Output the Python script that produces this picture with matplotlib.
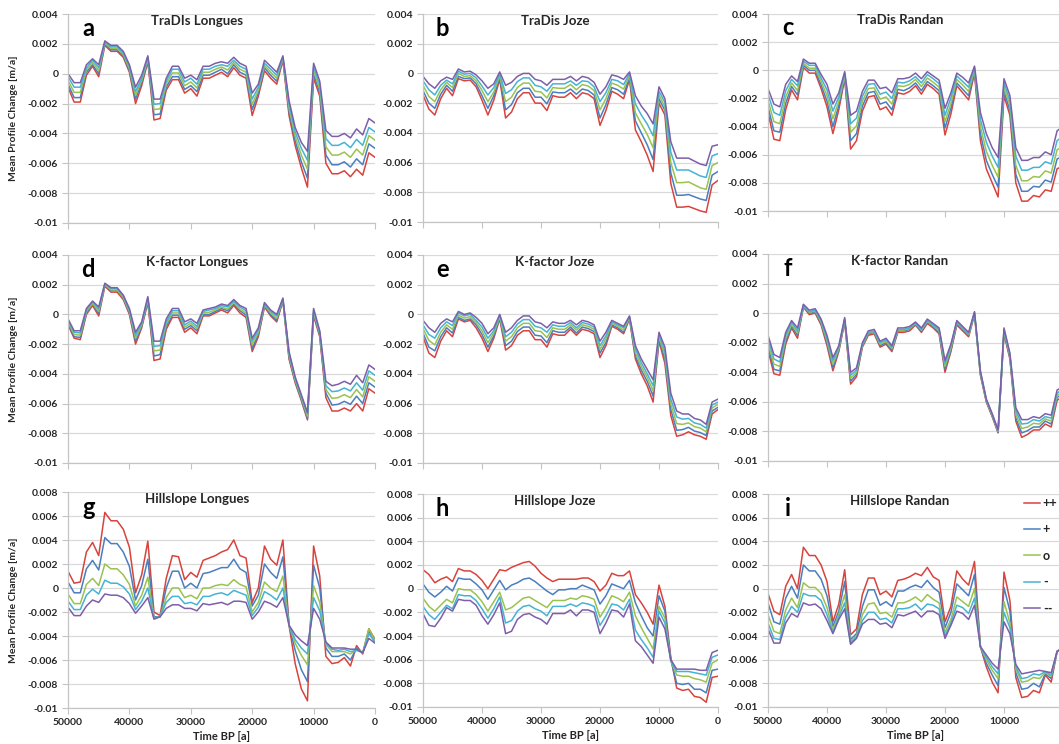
import numpy as np
import matplotlib
matplotlib.use("Agg")
import matplotlib.pyplot as plt
from matplotlib.ticker import FuncFormatter, MultipleLocator

plt.rcParams['font.family'] = ['Lato', 'DejaVu Sans']

# time axis (years before present), one value per 1000 years
time_bp = list(range(50000, -1, -1000))
scenarios = ["++", "+", "o", "-", "--"]
colors = ["#d8433d", "#4a7ebf", "#9bc24f", "#45b3d3", "#7d5ea8"]

# all values in mm/a, converted to m/a when plotted

# a: TraDIs Longues
a_pp = [-0.9, -1.9, -1.9, -0.1, 0.5, -0.2, 1.9, 1.5, 1.5, 1.1,
        0.1, -2.0, -0.8, 0.8, -3.1, -3.0, -1.1, -0.4, -0.4, -1.3,
        -1.0, -1.5, -0.3, -0.3, -0.1, 0.1, -0.2, 0.4, -0.1, -0.3,
        -2.8, -1.5, 0.2, -0.3, -0.7, 0.9, -2.8, -4.8, -6.3, -7.6,
        -0.3, -1.5, -6.0, -6.7, -6.7, -6.5, -6.9, -6.4, -6.8, -5.3, -5.6]
a_p = [-0.7, -1.6, -1.6, 0.1, 0.6, 0.0, 2.0, 1.6, 1.6, 1.2,
       0.2, -1.7, -0.6, 0.9, -2.75, -2.7, -0.9, -0.2, -0.2, -1.05,
       -0.8, -1.2, -0.1, -0.1, 0.1, 0.3, 0.0, 0.6, 0.1, -0.1,
       -2.4, -1.3, 0.4, -0.1, -0.5, 1.0, -2.55, -4.5, -5.9, -7.0,
       -0.05, -1.25, -5.45, -6.1, -6.1, -5.9, -6.25, -5.7, -6.1, -4.7, -5.0]
a_o = [-0.45, -1.25, -1.25, 0.25, 0.75, 0.2, 2.05, 1.7, 1.7, 1.3,
       0.35, -1.45, -0.45, 1.0, -2.4, -2.35, -0.7, 0.05, 0.05, -0.8,
       -0.55, -0.95, 0.1, 0.1, 0.3, 0.45, 0.25, 0.75, 0.3, 0.1,
       -2.05, -1.1, 0.55, 0.1, -0.3, 1.05, -2.3, -4.2, -5.45, -6.4,
       0.2, -1.0, -4.9, -5.45, -5.45, -5.25, -5.6, -5.05, -5.45, -4.15, -4.45]
a_m = [-0.2, -0.9, -0.9, 0.4, 0.9, 0.4, 2.1, 1.8, 1.8, 1.4,
       0.5, -1.2, -0.3, 1.1, -2.05, -2.0, -0.5, 0.3, 0.3, -0.55,
       -0.3, -0.7, 0.3, 0.3, 0.5, 0.6, 0.5, 0.9, 0.5, 0.3,
       -1.7, -0.9, 0.7, 0.3, -0.1, 1.1, -2.05, -3.9, -5.0, -5.8,
       0.45, -0.75, -4.35, -4.8, -4.8, -4.6, -4.95, -4.4, -4.8, -3.6, -3.9]
a_mm = [0.0, -0.6, -0.6, 0.6, 1.0, 0.6, 2.2, 1.9, 1.9, 1.5,
        0.6, -0.9, -0.1, 1.2, -1.7, -1.7, -0.3, 0.5, 0.5, -0.3,
        -0.1, -0.4, 0.5, 0.5, 0.7, 0.8, 0.7, 1.1, 0.7, 0.5,
        -1.3, -0.7, 0.9, 0.5, 0.1, 1.2, -1.8, -3.6, -4.6, -5.2,
        0.7, -0.5, -3.8, -4.2, -4.2, -4.0, -4.3, -3.7, -4.1, -3.0, -3.3]

# b: TraDis Joze
b_pp = [-1.45, -2.4, -2.8, -1.7, -1.0, -1.5, -0.35, -0.5, -0.45, -0.9,
        -1.8, -2.8, -1.8, -0.4, -3.0, -2.6, -1.7, -1.3, -1.3, -2.0,
        -2.0, -2.5, -1.5, -1.6, -1.6, -1.3, -1.7, -1.3, -1.4, -1.7,
        -3.5, -2.5, -1.2, -1.4, -1.7, -0.4, -3.8, -4.6, -5.5, -6.6,
        -2.0, -2.8, -7.4, -9.0, -9.0, -8.95, -9.1, -9.25, -9.35, -7.5, -7.2]
b_p = [-1.15, -2.0, -2.35, -1.4, -0.8, -1.2, -0.2, -0.35, -0.3, -0.7,
       -1.5, -2.35, -1.5, -0.3, -2.45, -2.1, -1.3, -1.0, -1.0, -1.6,
       -1.6, -2.05, -1.25, -1.3, -1.3, -1.05, -1.4, -1.05, -1.15, -1.45,
       -3.0, -2.1, -0.95, -1.1, -1.4, -0.3, -3.2, -4.0, -4.8, -5.8,
       -1.7, -2.5, -6.7, -8.2, -8.2, -8.15, -8.3, -8.45, -8.55, -6.85, -6.6]
b_o = [-0.8, -1.55, -1.9, -1.1, -0.6, -0.95, 0.0, -0.2, -0.15, -0.5,
       -1.15, -1.9, -1.25, -0.15, -1.9, -1.6, -0.95, -0.65, -0.65, -1.2,
       -1.25, -1.65, -0.95, -1.0, -1.0, -0.75, -1.1, -0.75, -0.85, -1.15,
       -2.45, -1.7, -0.65, -0.8, -1.05, -0.15, -2.65, -3.4, -4.1, -5.0,
       -1.45, -2.25, -6.0, -7.35, -7.35, -7.3, -7.5, -7.7, -7.8, -6.2, -6.0]
b_m = [-0.5, -1.1, -1.45, -0.8, -0.45, -0.7, 0.15, -0.05, 0.0, -0.3,
       -0.85, -1.45, -0.95, -0.05, -1.35, -1.1, -0.55, -0.3, -0.3, -0.8,
       -0.9, -1.2, -0.7, -0.7, -0.7, -0.5, -0.8, -0.5, -0.55, -0.9,
       -1.9, -1.3, -0.4, -0.5, -0.75, 0.0, -2.05, -2.8, -3.4, -4.2,
       -1.2, -1.95, -5.3, -6.5, -6.5, -6.5, -6.7, -6.9, -7.0, -5.55, -5.4]
b_mm = [-0.2, -0.7, -1.0, -0.5, -0.25, -0.4, 0.3, 0.1, 0.15, -0.1,
        -0.5, -1.0, -0.7, 0.1, -0.8, -0.6, -0.2, 0.0, 0.0, -0.4,
        -0.5, -0.8, -0.4, -0.4, -0.4, -0.2, -0.5, -0.2, -0.3, -0.6,
        -1.4, -0.9, -0.1, -0.2, -0.4, 0.1, -1.5, -2.2, -2.7, -3.4,
        -0.9, -1.7, -4.6, -5.7, -5.7, -5.7, -5.9, -6.1, -6.2, -4.9, -4.8]

# c: TraDis Randan
c_pp = [-3.0, -4.9, -5.0, -2.8, -1.4, -2.1, 0.2, -0.2, -0.2, -1.3,
        -2.6, -4.5, -2.8, -0.6, -5.6, -5.0, -2.9, -1.9, -1.8, -2.8,
        -2.6, -3.2, -1.6, -1.7, -1.5, -1.1, -1.7, -1.0, -1.3, -1.7,
        -4.6, -3.1, -1.1, -1.6, -2.1, -0.2, -5.0, -7.0, -8.0, -9.0,
        -1.8, -3.2, -8.0, -9.3, -9.3, -8.9, -9.0, -8.5, -8.6, -7.0, -6.8]
c_p = [-2.6, -4.3, -4.4, -2.35, -1.15, -1.75, 0.35, 0.0, 0.0, -1.05,
       -2.2, -4.0, -2.5, -0.5, -5.0, -4.5, -2.55, -1.6, -1.5, -2.4,
       -2.25, -2.8, -1.35, -1.45, -1.25, -0.9, -1.45, -0.8, -1.1, -1.45,
       -4.1, -2.7, -0.9, -1.35, -1.8, -0.1, -4.5, -6.4, -7.4, -8.3,
       -1.5, -2.85, -7.4, -8.6, -8.6, -8.25, -8.3, -7.8, -7.95, -6.3, -6.1]
c_o = [-2.15, -3.65, -3.8, -1.9, -0.9, -1.45, 0.5, 0.15, 0.15, -0.8,
       -1.8, -3.45, -2.2, -0.35, -4.4, -3.95, -2.2, -1.3, -1.25, -2.05,
       -1.9, -2.4, -1.1, -1.15, -1.0, -0.65, -1.15, -0.55, -0.85, -1.2,
       -3.65, -2.35, -0.65, -1.05, -1.5, 0.05, -4.0, -5.75, -6.75, -7.6,
       -1.2, -2.5, -6.75, -7.85, -7.85, -7.55, -7.6, -7.15, -7.3, -5.65, -5.4]
c_m = [-1.7, -3.0, -3.2, -1.45, -0.65, -1.1, 0.65, 0.35, 0.35, -0.55,
       -1.4, -2.9, -1.9, -0.2, -3.8, -3.4, -1.85, -1.0, -0.95, -1.7,
       -1.55, -2.0, -0.85, -0.9, -0.75, -0.45, -0.9, -0.3, -0.6, -0.95,
       -3.2, -1.95, -0.4, -0.8, -1.2, 0.2, -3.5, -5.1, -6.1, -6.9,
       -0.9, -2.15, -6.1, -7.1, -7.1, -6.9, -6.9, -6.5, -6.65, -5.0, -4.7]
c_mm = [-1.3, -2.4, -2.6, -1.0, -0.4, -0.8, 0.8, 0.5, 0.5, -0.3,
        -1.0, -2.4, -1.6, -0.1, -3.2, -2.9, -1.5, -0.7, -0.7, -1.3,
        -1.2, -1.6, -0.6, -0.6, -0.5, -0.2, -0.6, -0.1, -0.4, -0.7,
        -2.7, -1.6, -0.2, -0.5, -0.9, 0.3, -3.0, -4.5, -5.5, -6.2,
        -0.6, -1.8, -5.5, -6.4, -6.4, -6.2, -6.2, -5.8, -6.0, -4.3, -4.0]

# d: K-factor Longues
d_pp = [-0.7, -1.6, -1.7, 0.0, 0.6, -0.1, 1.9, 1.5, 1.5, 1.0,
        0.0, -2.0, -0.9, 0.8, -3.1, -3.0, -1.0, -0.2, -0.2, -1.2,
        -0.9, -1.3, -0.1, -0.1, 0.1, 0.3, 0.1, 0.6, 0.1, -0.2,
        -2.5, -1.5, 0.5, -0.1, -0.5, 0.9, -3.0, -4.6, -5.8, -7.1,
        -0.1, -1.5, -5.6, -6.5, -6.5, -6.3, -6.5, -6.0, -6.5, -5.0, -5.3]
d_p = [-0.6, -1.5, -1.55, 0.1, 0.7, 0.05, 1.95, 1.6, 1.6, 1.1,
       0.1, -1.8, -0.8, 0.9, -2.8, -2.7, -0.8, -0.05, -0.05, -1.0,
       -0.75, -1.1, 0.0, 0.0, 0.2, 0.4, 0.25, 0.7, 0.25, -0.05,
       -2.3, -1.35, 0.6, 0.0, -0.4, 0.95, -2.9, -4.5, -5.7, -7.0,
       0.0, -1.4, -5.3, -6.1, -6.05, -5.85, -6.05, -5.5, -6.0, -4.6, -4.9]
d_o = [-0.5, -1.35, -1.4, 0.2, 0.75, 0.2, 2.0, 1.65, 1.65, 1.15,
       0.2, -1.6, -0.7, 1.0, -2.45, -2.4, -0.65, 0.1, 0.1, -0.85,
       -0.6, -0.95, 0.1, 0.15, 0.3, 0.5, 0.35, 0.8, 0.35, 0.1,
       -2.05, -1.2, 0.65, 0.1, -0.25, 1.0, -2.75, -4.4, -5.6, -6.85,
       0.15, -1.3, -5.05, -5.65, -5.6, -5.4, -5.6, -5.05, -5.55, -4.2, -4.5]
d_m = [-0.4, -1.2, -1.25, 0.3, 0.85, 0.35, 2.05, 1.75, 1.75, 1.25,
       0.3, -1.4, -0.6, 1.1, -2.15, -2.1, -0.5, 0.25, 0.25, -0.7,
       -0.45, -0.8, 0.2, 0.3, 0.4, 0.6, 0.5, 0.9, 0.5, 0.25,
       -1.8, -1.05, 0.7, 0.2, -0.1, 1.05, -2.6, -4.3, -5.5, -6.7,
       0.3, -1.2, -4.8, -5.2, -5.15, -4.95, -5.15, -4.6, -5.1, -3.8, -4.1]
d_mm = [-0.3, -1.1, -1.1, 0.4, 0.9, 0.5, 2.1, 1.8, 1.8, 1.3,
        0.4, -1.2, -0.5, 1.2, -1.8, -1.8, -0.3, 0.4, 0.4, -0.5,
        -0.3, -0.6, 0.3, 0.4, 0.5, 0.7, 0.6, 1.0, 0.6, 0.4,
        -1.6, -0.9, 0.8, 0.3, 0.0, 1.1, -2.5, -4.2, -5.4, -6.6,
        0.4, -1.1, -4.5, -4.8, -4.7, -4.5, -4.7, -4.1, -4.6, -3.4, -3.7]

# e: K-factor Joze
e_pp = [-1.5, -2.6, -2.9, -1.8, -1.1, -1.5, -0.3, -0.5, -0.4, -0.9,
        -1.6, -2.5, -1.6, -0.3, -2.4, -2.1, -1.4, -1.1, -1.1, -1.7,
        -1.7, -2.2, -1.3, -1.4, -1.4, -1.0, -1.4, -1.0, -1.1, -1.3,
        -2.9, -2.1, -0.8, -1.0, -1.3, -0.3, -3.0, -4.0, -4.8, -5.9,
        -1.8, -3.3, -6.8, -8.2, -8.1, -7.9, -8.1, -8.2, -8.4, -6.7, -6.4]
e_p = [-1.25, -2.2, -2.45, -1.5, -0.9, -1.25, -0.2, -0.4, -0.3, -0.7,
       -1.35, -2.2, -1.45, -0.2, -2.1, -1.8, -1.15, -0.85, -0.85, -1.4,
       -1.45, -1.9, -1.1, -1.2, -1.2, -0.85, -1.25, -0.85, -0.95, -1.15,
       -2.6, -1.9, -0.7, -0.9, -1.2, -0.25, -2.8, -3.75, -4.5, -5.5,
       -1.65, -3.0, -6.4, -7.8, -7.75, -7.6, -7.85, -7.95, -8.15, -6.5, -6.25]
e_o = [-0.95, -1.75, -2.05, -1.2, -0.7, -1.0, -0.05, -0.25, -0.15, -0.55,
       -1.1, -1.9, -1.25, -0.15, -1.8, -1.5, -0.9, -0.6, -0.6, -1.1,
       -1.15, -1.55, -0.9, -1.0, -1.0, -0.7, -1.05, -0.7, -0.8, -1.0,
       -2.35, -1.65, -0.6, -0.8, -1.05, -0.2, -2.55, -3.5, -4.25, -5.15,
       -1.5, -2.75, -6.05, -7.35, -7.4, -7.3, -7.55, -7.65, -7.9, -6.3, -6.05]
e_m = [-0.7, -1.35, -1.6, -0.9, -0.5, -0.75, 0.1, -0.1, 0.0, -0.4,
       -0.85, -1.6, -1.1, -0.05, -1.5, -1.2, -0.65, -0.35, -0.35, -0.8,
       -0.9, -1.2, -0.7, -0.8, -0.8, -0.55, -0.9, -0.55, -0.65, -0.85,
       -2.1, -1.45, -0.5, -0.7, -0.9, -0.15, -2.3, -3.25, -4.0, -4.8,
       -1.35, -2.5, -5.7, -6.9, -7.05, -7.0, -7.3, -7.4, -7.65, -6.1, -5.9]
e_mm = [-0.4, -0.9, -1.2, -0.6, -0.3, -0.5, 0.2, 0.0, 0.1, -0.2,
        -0.6, -1.3, -0.9, 0.0, -1.2, -0.9, -0.4, -0.1, -0.1, -0.5,
        -0.6, -0.9, -0.5, -0.6, -0.6, -0.4, -0.7, -0.4, -0.5, -0.7,
        -1.8, -1.2, -0.4, -0.6, -0.8, -0.1, -2.1, -3.0, -3.7, -4.4,
        -1.2, -2.2, -5.3, -6.5, -6.7, -6.7, -7.0, -7.1, -7.4, -5.9, -5.7]

# f: K-factor Randan
f_pp = [-2.5, -4.1, -4.2, -2.1, -1.0, -1.7, 0.4, -0.1, 0.0, -0.8,
        -2.2, -3.9, -2.6, -0.6, -4.8, -4.3, -2.3, -1.5, -1.4, -2.3,
        -2.1, -2.6, -1.3, -1.3, -1.2, -0.8, -1.3, -0.7, -1.0, -1.4,
        -4.0, -2.6, -0.8, -1.2, -1.6, -0.1, -4.2, -6.0, -7.0, -8.1,
        -1.4, -3.1, -7.3, -8.4, -8.2, -7.9, -7.9, -7.5, -7.7, -5.9, -5.6]
f_p = [-2.25, -3.8, -3.9, -1.9, -0.9, -1.5, 0.45, 0.0, 0.1, -0.7,
       -2.0, -3.7, -2.5, -0.5, -4.6, -4.15, -2.2, -1.4, -1.3, -2.2,
       -2.0, -2.5, -1.2, -1.2, -1.1, -0.75, -1.2, -0.6, -0.9, -1.3,
       -3.8, -2.5, -0.7, -1.1, -1.5, -0.05, -4.1, -5.95, -6.95, -8.05,
       -1.3, -3.0, -7.1, -8.1, -7.95, -7.7, -7.7, -7.3, -7.5, -5.7, -5.45]
f_o = [-2.0, -3.45, -3.6, -1.7, -0.75, -1.35, 0.5, 0.05, 0.15, -0.6,
       -1.85, -3.45, -2.4, -0.45, -4.4, -4.0, -2.15, -1.35, -1.25, -2.1,
       -1.9, -2.4, -1.15, -1.15, -1.05, -0.7, -1.15, -0.55, -0.85, -1.2,
       -3.6, -2.35, -0.65, -1.05, -1.45, 0.0, -4.05, -5.9, -6.9, -8.0,
       -1.2, -2.9, -6.85, -7.8, -7.7, -7.45, -7.5, -7.15, -7.3, -5.55, -5.3]
f_m = [-1.75, -3.1, -3.3, -1.5, -0.6, -1.2, 0.55, 0.1, 0.2, -0.5,
       -1.7, -3.2, -2.3, -0.4, -4.2, -3.85, -2.1, -1.3, -1.2, -2.0,
       -1.8, -2.3, -1.1, -1.1, -1.0, -0.65, -1.1, -0.5, -0.8, -1.1,
       -3.4, -2.2, -0.6, -1.0, -1.4, 0.05, -4.0, -5.85, -6.85, -7.95,
       -1.1, -2.8, -6.6, -7.5, -7.45, -7.2, -7.3, -7.0, -7.1, -5.4, -5.15]
f_mm = [-1.5, -2.8, -3.0, -1.3, -0.5, -1.0, 0.6, 0.2, 0.3, -0.4,
        -1.5, -3.0, -2.2, -0.3, -4.0, -3.7, -2.0, -1.2, -1.1, -1.9,
        -1.7, -2.2, -1.0, -1.0, -0.9, -0.6, -1.0, -0.4, -0.7, -1.0,
        -3.2, -2.1, -0.5, -0.9, -1.3, 0.1, -3.9, -5.8, -6.8, -7.9,
        -1.0, -2.7, -6.4, -7.2, -7.2, -7.0, -7.1, -6.8, -6.9, -5.2, -5.0]

# g: Hillslope Longues
g_pp = [1.4, 0.4, 0.5, 3.0, 3.8, 2.7, 6.3, 5.6, 5.6, 4.9,
        3.4, -0.4, 1.1, 3.9, -2.0, -2.3, 0.8, 2.7, 2.6, 0.7,
        1.3, 0.9, 2.3, 2.5, 2.7, 3.0, 3.2, 4.0, 2.7, 2.5,
        -1.2, 0.0, 3.5, 2.4, 1.9, 4.0, -3.1, -6.3, -8.4, -9.4,
        3.5, 1.0, -5.7, -6.3, -6.2, -5.8, -6.5, -4.8, -5.5, -3.4, -4.3]
g_p = [0.5, -0.4, -0.4, 1.6, 2.3, 1.5, 4.2, 3.7, 3.7, 3.0,
       1.8, -1.0, 0.2, 2.4, -2.4, -2.4, 0.0, 1.4, 1.4, 0.0,
       0.4, 0.0, 1.2, 1.3, 1.5, 1.7, 1.7, 2.4, 1.6, 1.3,
       -1.5, -0.6, 2.0, 1.3, 0.8, 2.6, -3.1, -5.2, -6.8, -7.8,
       1.9, 0.0, -5.0, -5.7, -5.7, -5.5, -6.0, -5.0, -5.4, -3.6, -4.4]
g_o = [-0.5, -1.3, -1.3, 0.3, 0.8, 0.2, 2.0, 1.6, 1.6, 1.1,
       0.3, -1.5, -0.6, 0.9, -2.5, -2.4, -0.8, 0.0, 0.0, -0.8,
       -0.6, -0.9, 0.0, 0.0, 0.2, 0.3, 0.2, 0.7, 0.3, 0.1,
       -2.0, -1.2, 0.5, 0.0, -0.3, 1.0, -3.1, -4.6, -5.6, -6.4,
       0.2, -1.2, -4.7, -5.3, -5.3, -5.3, -5.5, -5.1, -5.4, -3.4, -4.4]
g_m = [-1.1, -1.8, -1.8, -0.6, -0.1, -0.5, 0.65, 0.4, 0.4, 0.1,
       -0.5, -1.8, -1.1, 0.0, -2.5, -2.4, -1.2, -0.7, -0.7, -1.3,
       -1.2, -1.4, -0.7, -0.7, -0.5, -0.4, -0.6, -0.2, -0.4, -0.6,
       -2.3, -1.6, -0.3, -0.6, -1.0, 0.0, -3.1, -4.3, -5.0, -5.5,
       -0.8, -1.9, -4.6, -5.1, -5.2, -5.1, -5.3, -5.2, -5.4, -3.8, -4.5]
g_mm = [-1.6, -2.3, -2.3, -1.5, -1.0, -1.2, -0.5, -0.6, -0.6, -0.8,
        -1.3, -2.1, -1.5, -0.8, -2.6, -2.4, -1.7, -1.4, -1.4, -1.7,
        -1.7, -1.9, -1.3, -1.4, -1.3, -1.2, -1.4, -1.1, -1.1, -1.2,
        -2.6, -2.0, -1.1, -1.3, -1.6, -0.8, -3.1, -3.9, -4.4, -4.8,
        -1.7, -2.6, -4.5, -5.0, -5.0, -5.0, -5.1, -5.1, -5.4, -4.2, -4.6]

# h: Hillslope Joze
h_pp = [1.6, 1.2, 0.5, 0.8, 1.0, 0.6, 1.7, 1.5, 1.5, 1.2,
        0.7, 0.0, 0.8, 1.6, 1.5, 1.8, 2.0, 2.2, 2.3, 1.9,
        1.3, 0.9, 0.6, 0.8, 0.8, 0.8, 0.8, 0.9, 0.9, 0.6,
        -0.2, 0.3, 1.3, 1.1, 1.1, 1.5, -0.5, -1.2, -2.0, -3.0,
        0.3, -1.5, -5.8, -8.4, -8.6, -8.5, -9.1, -9.2, -9.6, -7.5, -7.4]
h_p = [0.4, -0.3, -0.7, -0.3, 0.2, -0.2, 0.9, 0.8, 0.8, 0.4,
       -0.1, -0.9, -0.1, 0.7, -0.1, 0.3, 0.5, 0.8, 0.9, 0.6,
       0.2, -0.2, -0.5, -0.1, -0.1, 0.0, 0.0, 0.3, 0.1, -0.1,
       -1.3, -0.6, 0.4, 0.2, 0.0, 0.7, -1.2, -2.3, -3.3, -4.0,
       -0.6, -1.9, -6.0, -8.0, -8.1, -8.0, -8.5, -8.5, -8.8, -6.9, -6.8]
h_o = [-0.8, -1.5, -1.9, -1.4, -0.9, -1.2, 0.0, -0.1, -0.1, -0.5,
       -1.1, -1.9, -1.1, -0.3, -1.8, -1.6, -1.2, -0.8, -0.7, -1.0,
       -1.3, -1.6, -1.0, -1.0, -1.0, -0.8, -0.9, -0.6, -0.7, -0.9,
       -2.4, -1.6, -0.6, -0.8, -1.1, -0.3, -2.3, -3.3, -4.2, -5.1,
       -1.5, -2.5, -6.1, -7.3, -7.4, -7.4, -7.6, -7.7, -7.9, -6.3, -6.0]
h_m = [-1.5, -2.2, -2.6, -2.0, -1.4, -1.7, -0.5, -0.6, -0.6, -1.0,
       -1.7, -2.5, -1.7, -0.7, -2.9, -2.7, -1.9, -1.5, -1.4, -1.7,
       -1.9, -2.3, -1.5, -1.5, -1.5, -1.3, -1.5, -1.2, -1.3, -1.5,
       -3.1, -2.3, -1.3, -1.4, -1.8, -0.9, -3.5, -4.3, -5.0, -5.8,
       -1.9, -2.9, -6.1, -7.0, -7.0, -7.0, -7.1, -7.2, -7.3, -5.8, -5.6]
h_mm = [-2.1, -3.1, -3.2, -2.5, -1.6, -1.9, -0.9, -1.0, -1.0, -1.4,
        -2.3, -3.0, -2.2, -1.2, -3.8, -3.6, -2.6, -2.2, -2.1, -2.4,
        -2.6, -3.0, -2.1, -2.1, -2.1, -1.8, -2.3, -1.8, -1.8, -2.0,
        -3.8, -2.9, -1.8, -1.9, -2.4, -1.3, -4.4, -4.9, -5.6, -6.3,
        -2.4, -3.4, -6.0, -6.8, -6.8, -6.8, -6.8, -6.9, -6.9, -5.4, -5.2]

# i: Hillslope Randan
i_pp = [-0.4, -1.9, -2.2, 0.2, 1.2, 0.0, 3.5, 2.8, 2.8, 2.0,
        0.6, -2.8, -1.3, 1.6, -3.9, -3.4, -0.5, 0.9, 0.9, -0.5,
        -0.2, -0.7, 0.7, 0.8, 1.0, 1.3, 1.1, 1.8, 1.0, 0.7,
        -2.8, -1.5, 1.5, 0.8, 0.3, 2.3, -4.9, -6.6, -7.9, -8.8,
        1.4, -1.0, -7.5, -9.2, -9.1, -8.6, -8.8, -7.3, -7.9, -5.3, -5.0]
i_p = [-1.2, -2.8, -3.0, -0.8, 0.2, -0.8, 2.0, 1.5, 1.5, 0.8,
       -0.6, -3.2, -1.9, 0.6, -4.3, -3.8, -1.5, -0.1, -0.1, -1.4,
       -1.1, -1.5, -0.2, -0.2, 0.1, 0.3, 0.1, 0.7, 0.1, -0.3,
       -3.3, -2.0, 0.4, -0.1, -0.6, 1.2, -4.9, -6.3, -7.3, -8.2,
       0.1, -1.9, -7.1, -8.5, -8.4, -8.0, -8.3, -7.2, -7.6, -5.3, -5.0]
i_o = [-2.2, -3.6, -3.8, -1.8, -0.8, -1.6, 0.5, 0.1, 0.1, -0.4,
       -1.6, -3.5, -2.2, -0.5, -4.5, -4.0, -2.2, -1.3, -1.2, -2.1,
       -2.0, -2.4, -1.2, -1.2, -1.0, -0.7, -1.1, -0.5, -0.9, -1.2,
       -3.7, -2.6, -0.7, -1.1, -1.5, 0.0, -4.9, -6.0, -6.9, -7.6,
       -1.1, -2.9, -6.8, -7.9, -7.8, -7.5, -7.6, -7.1, -7.4, -5.3, -5.0]
i_m = [-2.9, -4.2, -4.3, -2.4, -1.5, -2.0, -0.4, -0.6, -0.6, -1.0,
       -2.2, -3.7, -2.4, -1.2, -4.6, -4.1, -2.7, -2.0, -2.0, -2.6,
       -2.5, -2.9, -1.7, -1.7, -1.6, -1.3, -1.8, -1.3, -1.4, -1.7,
       -4.0, -2.9, -1.4, -1.6, -2.1, -0.8, -4.9, -5.8, -6.6, -7.2,
       -2.0, -3.3, -6.6, -7.6, -7.5, -7.2, -7.3, -7.0, -7.3, -5.3, -5.0]
i_mm = [-3.4, -4.6, -4.6, -2.9, -2.1, -2.4, -1.2, -1.4, -1.3, -1.7,
        -2.7, -3.8, -2.6, -1.7, -4.7, -4.2, -3.0, -2.6, -2.6, -3.0,
        -2.9, -3.3, -2.2, -2.3, -2.1, -1.9, -2.4, -1.9, -1.9, -2.2,
        -4.2, -3.1, -1.9, -2.1, -2.6, -1.4, -4.9, -5.6, -6.3, -6.8,
        -2.8, -3.8, -6.4, -7.2, -7.1, -7.0, -6.9, -7.0, -7.1, -5.3, -5.0]

panels = [
    ("a", "TraDIs Longues", [a_pp, a_p, a_o, a_m, a_mm]),
    ("b", "TraDis Joze", [b_pp, b_p, b_o, b_m, b_mm]),
    ("c", "TraDis Randan", [c_pp, c_p, c_o, c_m, c_mm]),
    ("d", "K-factor Longues", [d_pp, d_p, d_o, d_m, d_mm]),
    ("e", "K-factor Joze", [e_pp, e_p, e_o, e_m, e_mm]),
    ("f", "K-factor Randan", [f_pp, f_p, f_o, f_m, f_mm]),
    ("g", "Hillslope Longues", [g_pp, g_p, g_o, g_m, g_mm]),
    ("h", "Hillslope Joze", [h_pp, h_p, h_o, h_m, h_mm]),
    ("i", "Hillslope Randan", [i_pp, i_p, i_o, i_m, i_mm]),
]

W, H = 1059, 744
fig = plt.figure(figsize=(W / 100, H / 100), dpi=100)

# panel boxes in pixels: (left, right) per column, (top, bottom) per row/column
col_x = [(68, 375), (423, 718), (768, 1063)]
row_y = [[(14, 223), (14, 222), (14, 211)],
         [(255, 463), (255, 463), (254, 461)],
         [(492, 708), (494, 707), (494, 707)]]
title_x = [0.42, 0.447, 0.447]

TXT = "#262626"
GRID = "#d9d9d9"


def yfmt(v, _):
    return f"{np.round(v, 4) + 0.0:g}"


axes = []
for k, (letter, title, series) in enumerate(panels):
    r, c = divmod(k, 3)
    x0, x1 = col_x[c]
    y0, y1 = row_y[r][c]
    ax = fig.add_axes([x0 / W, 1 - y1 / H, (x1 - x0) / W, (y1 - y0) / H])
    axes.append(ax)

    for vals, col, lab in zip(series, colors, scenarios):
        ax.plot(time_bp, np.array(vals) * 1e-3, color=col, lw=1.1, label=lab)

    ax.set_xlim(50000, 0)
    ax.set_ylim(-0.01, 0.008 if r == 2 else 0.004)
    ax.yaxis.set_major_locator(MultipleLocator(0.002))
    ax.yaxis.set_major_formatter(FuncFormatter(yfmt))
    # the right column runs past the page edge, so its last tick is dropped
    ax.set_xticks(range(50000, 9999 if c == 2 else -1, -10000))
    ax.grid(axis="y", color=GRID, lw=0.9)
    ax.set_axisbelow(True)
    for s in ("top", "right"):
        ax.spines[s].set_visible(False)
    for s in ("left", "bottom"):
        ax.spines[s].set_color("#c4c4c4")
        ax.spines[s].set_linewidth(0.9)
    ax.tick_params(length=4, width=0.8, color="#c4c4c4", labelcolor=TXT,
                   labelsize=7.5, pad=3)
    for t in ax.get_yticklabels() + ax.get_xticklabels():
        t.set_fontweight("bold")
    if r < 2:
        ax.tick_params(axis="x", labelbottom=False)
    else:
        ax.set_xlabel("Time BP [a]", fontsize=8, fontweight="bold",
                      color=TXT, labelpad=3)

    ax.text(title_x[c], 0.968, title, transform=ax.transAxes, ha="center",
            va="center", fontsize=9.5, fontweight="bold", color=TXT)
    ax.text(0.066, 0.895, letter, transform=ax.transAxes, ha="center",
            va="baseline", fontsize=17, fontweight="bold", color="black")

# y label text for the left column
for r in range(3):
    y0, y1 = row_y[r][0]
    fig.text(14 / W, 1 - (y0 + y1) / 2 / H, "Mean Profile Change [m/a]",
             rotation=90, ha="center", va="center", fontsize=7.5,
             fontweight="bold", color=TXT)

leg = axes[8].legend(loc="upper left", bbox_to_anchor=(1024 / W, 1 - 497 / H),
                     bbox_transform=fig.transFigure, frameon=False,
                     handlelength=1.3, handletextpad=0.2, labelspacing=1.15,
                     borderpad=0, borderaxespad=0,
                     prop={"size": 9, "weight": "bold"})
for t in leg.get_texts():
    t.set_color(TXT)

fig.savefig("out.png", dpi=100)
